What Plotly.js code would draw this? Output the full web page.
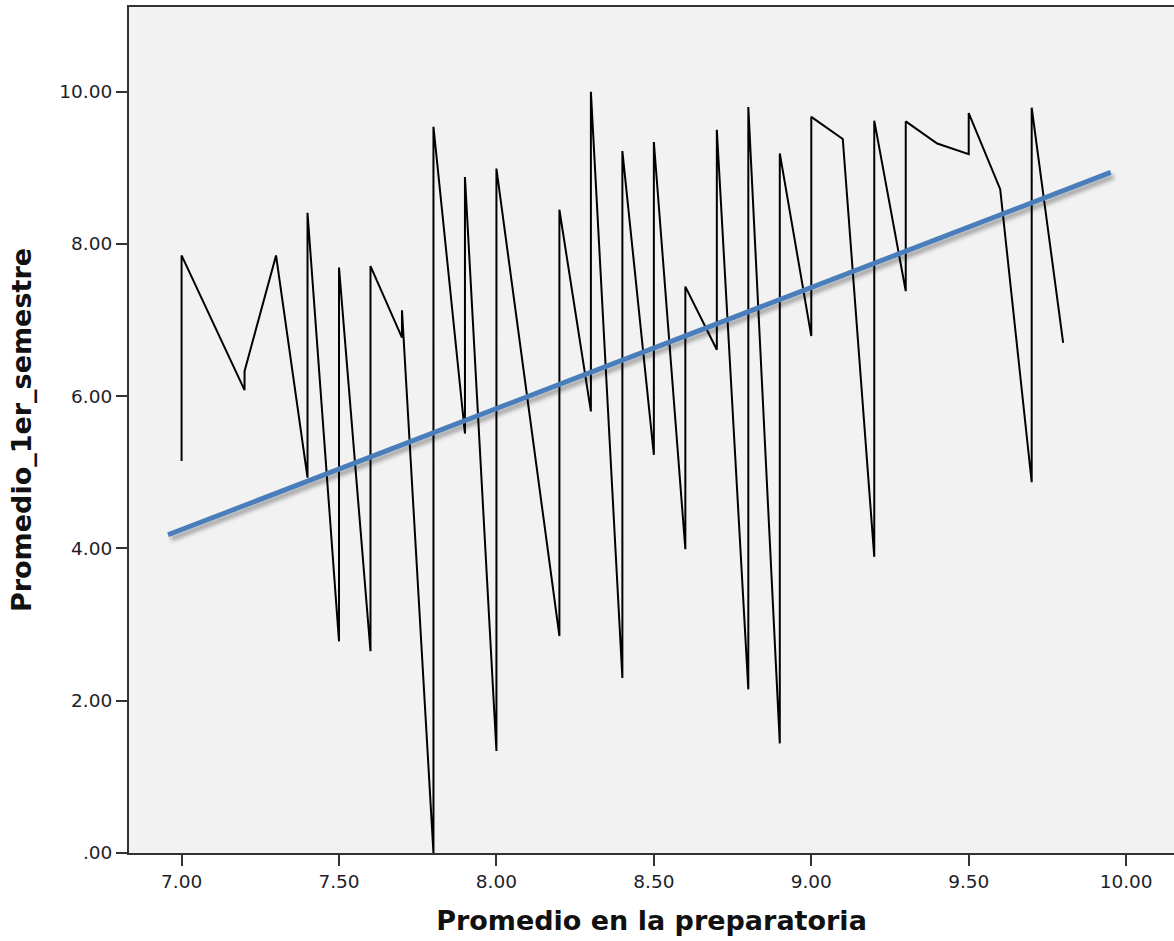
<!DOCTYPE html>
<html>
<head>
<meta charset="utf-8">
<script src="https://cdn.plot.ly/plotly-3.0.1.min.js"></script>
<style>
  html, body { margin: 0; padding: 0; background: #ffffff; }
  #chart { width: 1174px; height: 941px; }
</style>
</head>
<body>
<div id="chart"></div>
<script>
// Observed data: Promedio en la preparatoria (x) vs Promedio_1er_semestre (y), joined in x order
const prepa = [7.0, 7.0, 7.2, 7.2, 7.3, 7.4, 7.4, 7.5, 7.5, 7.6, 7.6, 7.7, 7.7, 7.8, 7.8,
               7.9, 7.9, 8.0, 8.0, 8.2, 8.2, 8.3, 8.3, 8.4, 8.4, 8.5, 8.5, 8.6, 8.6, 8.7, 8.7,
               8.8, 8.8, 8.9, 8.9, 9.0, 9.0, 9.1, 9.2, 9.2, 9.3, 9.3, 9.4, 9.5, 9.5, 9.6,
               9.7, 9.7, 9.8];
const semestre1 = [5.15, 7.85, 6.08, 6.33, 7.85, 4.93, 8.41, 2.78, 7.69, 2.65, 7.71, 6.77, 7.13, 0.00, 9.54,
                   5.51, 8.88, 1.34, 8.99, 2.85, 8.45, 5.80, 10.00, 2.30, 9.22, 5.23, 9.34, 3.99, 7.44, 6.61, 9.50,
                   2.15, 9.80, 1.44, 9.19, 6.79, 9.67, 9.38, 3.89, 9.62, 7.38, 9.61, 9.32, 9.18, 9.72, 8.72,
                   4.87, 9.79, 6.70];

// Fitted trend line (end points)
const fitX = [6.957, 9.951];
const fitY = [4.18, 8.94];

// Tick labels
const xTickVals = [7.0, 7.5, 8.0, 8.5, 9.0, 9.5, 10.0];
const xTickText = ["7.00", "7.50", "8.00", "8.50", "9.00", "9.50", "10.00"];
const yTickVals = [0, 2, 4, 6, 8, 10];
const yTickText = [".00", "2.00", "4.00", "6.00", "8.00", "10.00"];

const traces = [
  {
    x: prepa, y: semestre1, type: 'scatter', mode: 'lines',
    line: { color: '#000000', width: 2 },
    hoverinfo: 'x+y', showlegend: false
  },
  {
    x: fitX, y: fitY, type: 'scatter', mode: 'lines',
    line: { color: '#4A7EBB', width: 5 },
    hoverinfo: 'skip', showlegend: false
  }
];

const tickFont = { family: 'DejaVu Sans, sans-serif', size: 18.5, color: '#1e1e2a' };
const titleFont = { family: 'DejaVu Sans, sans-serif', size: 27, color: '#111111', weight: 'bold' };

const layout = {
  width: 1174, height: 941,
  margin: { l: 129, r: 0, t: 7, b: 88, pad: 0 },
  paper_bgcolor: '#ffffff',
  plot_bgcolor: '#f2f2f2',
  showlegend: false,
  xaxis: {
    range: [6.833, 10.152],
    tickvals: xTickVals, ticktext: xTickText,
    ticks: 'outside', ticklen: 11, tickwidth: 2, tickcolor: '#333333',
    showline: true, linecolor: '#333333', linewidth: 2, mirror: true,
    showgrid: false, zeroline: false,
    tickfont: tickFont,
    title: { text: '<b>Promedio en la preparatoria</b>', font: titleFont, standoff: 20 },
    automargin: false
  },
  yaxis: {
    range: [0, 11.113],
    tickvals: yTickVals, ticktext: yTickText,
    ticks: 'outside', ticklen: 11, tickwidth: 2, tickcolor: '#333333',
    showline: true, linecolor: '#333333', linewidth: 2, mirror: false,
    showgrid: false, zeroline: false,
    tickfont: tickFont,
    title: { text: '<b>Promedio_1er_semestre</b>', font: titleFont, standoff: 20 },
    automargin: false
  }
};

Plotly.newPlot('chart', traces, layout, { displayModeBar: false, staticPlot: true }).then(function (gd) {
  // soft drop shadow under the fitted line, as in the reference
  const svg = gd.querySelector('svg.main-svg');
  const ns = 'http://www.w3.org/2000/svg';
  let defs = svg.querySelector('defs');
  if (!defs) { defs = document.createElementNS(ns, 'defs'); svg.insertBefore(defs, svg.firstChild); }
  const f = document.createElementNS(ns, 'filter');
  f.setAttribute('id', 'fitShadow');
  f.setAttribute('x', '-10%'); f.setAttribute('y', '-50%');
  f.setAttribute('width', '120%'); f.setAttribute('height', '200%');
  f.setAttribute('filterUnits', 'objectBoundingBox');
  const ds = document.createElementNS(ns, 'feDropShadow');
  ds.setAttribute('dx', '3'); ds.setAttribute('dy', '4');
  ds.setAttribute('stdDeviation', '2.2');
  ds.setAttribute('flood-color', '#000000');
  ds.setAttribute('flood-opacity', '0.35');
  f.appendChild(ds);
  defs.appendChild(f);
  const paths = gd.querySelectorAll('.scatterlayer .trace');
  if (paths.length > 1) {
    const p = paths[1].querySelector('path.js-line');
    if (p) p.setAttribute('filter', 'url(#fitShadow)');
  }
});
</script>
</body>
</html>
